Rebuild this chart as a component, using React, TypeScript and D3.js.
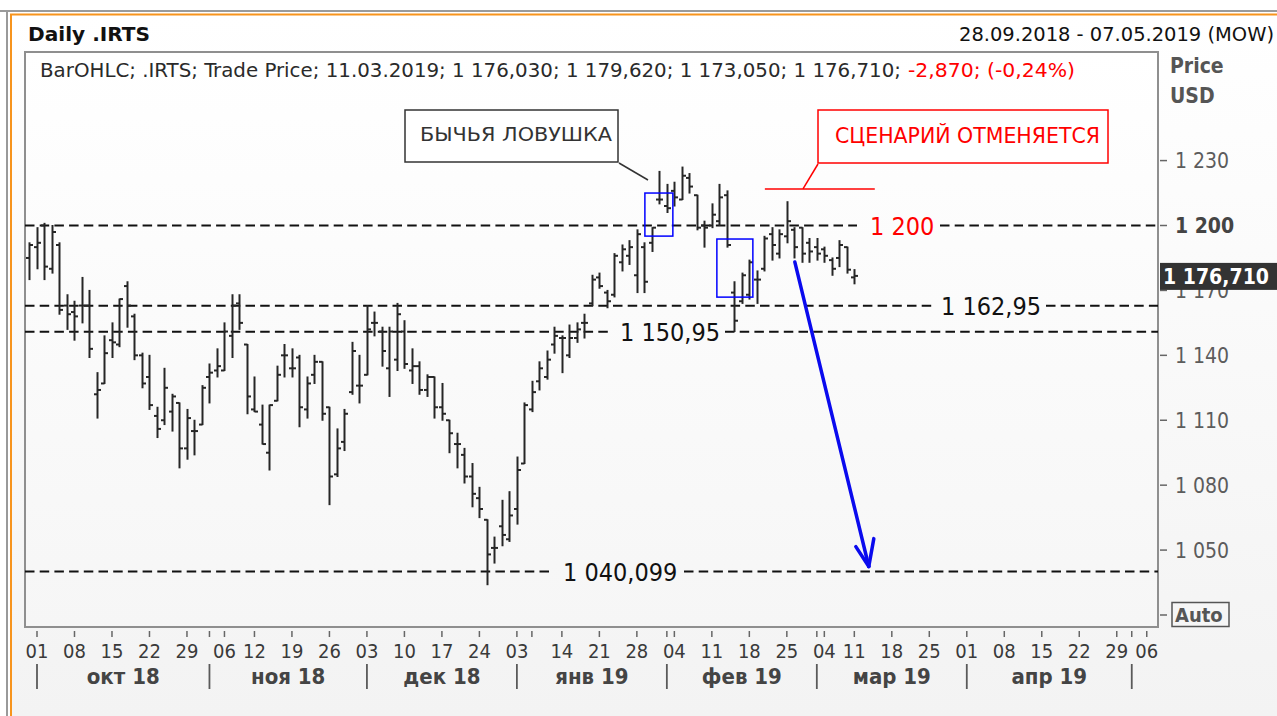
import React from 'react';
import * as d3 from 'd3';

const W = 1277;
const H = 716;

// ---------- calendar ----------
const FIRST_DAY = '2018-09-28';
const LAST_DAY = '2019-05-07';
const HOLIDAYS = ['2018-11-05', '2018-12-31', '2019-01-01', '2019-01-02', '2019-01-07', '2019-03-08', '2019-05-01'];

// ---------- OHLC series (11.03.2019 last bar) ----------
const openV = [
  1185, 1190, 1200, 1180, 1191, 1163, 1160, 1163, 1163, 1122,
  1127, 1147, 1145, 1172, 1158, 1140, 1130, 1112, 1110, 1114,
  1118, 1097, 1105, 1108, 1130, 1133, 1133, 1149, 1164, 1145,
  1115, 1108, 1095, 1119, 1140, 1134, 1139, 1115, 1131, 1137,
  1116, 1085, 1100, 1123, 1126, 1131, 1155, 1151, 1134, 1138,
  1151, 1133, 1135, 1124, 1130, 1116, 1110, 1099, 1094, 1084,
  1074, 1064, 1051, 1061, 1055, 1069, 1090, 1115, 1128, 1130,
  1145, 1148, 1140, 1148, 1155, 1164, 1176, 1169, 1168, 1183,
  1186, 1177, 1190, 1192, 1212, 1209, 1216, 1212, 1222, 1214,
  1200, 1200, 1202, 1214, 1169, 1165, 1168, 1175, 1180, 1196,
  1187, 1195, 1198, 1199, 1192, 1190, 1189, 1184, 1185, 1190,
  1176.03,
];
const highV = [
  1192, 1199, 1201, 1200, 1192, 1168, 1165, 1176, 1170, 1132,
  1149, 1155, 1166, 1174, 1159, 1141, 1140, 1116, 1134, 1122,
  1118, 1115, 1110, 1126, 1136, 1143, 1155, 1168, 1168, 1145,
  1130, 1117, 1117, 1135, 1145, 1143, 1140, 1130, 1140, 1137,
  1116, 1106, 1115, 1146, 1140, 1163, 1160, 1153, 1153, 1164,
  1156, 1143, 1137, 1131, 1130, 1127, 1110, 1104, 1097, 1090,
  1079, 1064, 1056, 1073, 1077, 1093, 1118, 1128, 1137, 1142,
  1153, 1149, 1154, 1155, 1159, 1177, 1178, 1170, 1187, 1191,
  1193, 1198, 1192, 1199, 1225, 1219, 1220, 1227, 1224, 1214,
  1202, 1210, 1219, 1216, 1174, 1178, 1184, 1179, 1195, 1199,
  1198, 1211, 1199, 1199, 1194, 1194, 1190, 1185, 1193, 1190,
  1179.62,
];
const lowV = [
  1175, 1180, 1175, 1178, 1159, 1152, 1147, 1155, 1139, 1111,
  1127, 1139, 1144, 1153, 1138, 1125, 1115, 1102, 1108, 1105,
  1088, 1092, 1094, 1108, 1118, 1130, 1133, 1139, 1152, 1113,
  1114, 1099, 1087, 1119, 1130, 1130, 1107, 1111, 1127, 1110,
  1071, 1084, 1096, 1122, 1118, 1131, 1149, 1135, 1121, 1133,
  1134, 1127, 1122, 1121, 1111, 1110, 1095, 1088, 1081, 1070,
  1065, 1034, 1044, 1052, 1054, 1062, 1090, 1114, 1124, 1129,
  1141, 1132, 1139, 1146, 1148, 1163, 1171, 1162, 1167, 1179,
  1182, 1169, 1169, 1188, 1210, 1206, 1209, 1212, 1215, 1198,
  1190, 1199, 1200, 1190, 1151, 1164, 1166, 1164, 1179, 1184,
  1185, 1192, 1185, 1183, 1183, 1184, 1183, 1177, 1181, 1178,
  1173.05,
];
const closeV = [
  1191, 1192, 1181, 1197, 1161, 1159, 1158, 1163, 1143, 1124,
  1141, 1146, 1166, 1163, 1140, 1127, 1117, 1106, 1125, 1121,
  1097, 1111, 1105, 1125, 1132, 1135, 1151, 1163, 1155, 1121,
  1114, 1099, 1117, 1131, 1140, 1134, 1116, 1127, 1137, 1113,
  1084, 1097, 1113, 1142, 1126, 1152, 1155, 1142, 1151, 1159,
  1136, 1135, 1124, 1130, 1116, 1113, 1104, 1099, 1084, 1076,
  1069, 1048, 1051, 1057, 1066, 1087, 1117, 1123, 1134, 1138,
  1149, 1148, 1148, 1152, 1155, 1175, 1172, 1165, 1186, 1189,
  1190, 1196, 1174, 1199, 1212, 1208, 1213, 1223, 1218, 1199,
  1199, 1205, 1213, 1191, 1156, 1177, 1183, 1175, 1194, 1191,
  1196, 1202, 1190, 1187, 1188, 1187, 1186, 1180, 1191, 1179.58,
  1176.71,
];

// ---------- axes ----------
const yTicks = [1050, 1080, 1110, 1140, 1170, 1200, 1230];
const yAuto = 1020;
const dayTickDates = [
  '2018-10-01', '2018-10-08', '2018-10-15', '2018-10-22', '2018-10-29', '2018-11-06', '2018-11-12',
  '2018-11-19', '2018-11-26', '2018-12-03', '2018-12-10', '2018-12-17', '2018-12-24', '2019-01-03',
  '2019-01-14', '2019-01-21', '2019-01-28', '2019-02-04', '2019-02-11', '2019-02-18', '2019-02-25',
  '2019-03-04', '2019-03-11', '2019-03-18', '2019-03-25', '2019-04-01', '2019-04-08', '2019-04-15',
  '2019-04-22', '2019-04-29', '2019-05-06',
];
const extraTickDates = ['2018-11-01', '2019-01-08', '2019-02-01', '2019-03-01', '2019-05-02'];
const monthStartDates = ['2018-10-01', '2018-11-01', '2018-12-03', '2019-01-03', '2019-02-01', '2019-03-01', '2019-04-01', '2019-05-02'];
const monthLabels = ['окт 18', 'ноя 18', 'дек 18', 'янв 19', 'фев 19', 'мар 19', 'апр 19'];

// ---------- levels ----------
const levelValues = [1200, 1162.95, 1150.95, 1040.099];
const levelLabels = ['1 200', '1 162,95', '1 150,95', '1 040,099'];

const fmt = (v: number) => {
  const s = Math.round(v).toString();
  return s.length > 3 ? s.slice(0, s.length - 3) + ' ' + s.slice(-3) : s;
};

function tradingDays(): string[] {
  const out: string[] = [];
  const d = new Date(FIRST_DAY + 'T00:00:00Z');
  const end = new Date(LAST_DAY + 'T00:00:00Z');
  while (d <= end) {
    const wd = d.getUTCDay();
    const iso = d.toISOString().slice(0, 10);
    if (wd !== 0 && wd !== 6 && !HOLIDAYS.includes(iso)) out.push(iso);
    d.setUTCDate(d.getUTCDate() + 1);
  }
  return out;
}

const FONT = 'Tahoma, "DejaVu Sans Condensed", "Liberation Sans", Arial, sans-serif';

export default function App() {
  const days = tradingDays();
  const idx = (s: string) => days.indexOf(s);

  const PL = 25, PR = 1158, PT = 52, PB = 627;
  const x = d3.scaleLinear().domain([-0.6, days.length - 0.5]).range([PL, PR]);
  const y = d3.scaleLinear().domain([yAuto, 1200]).range([615, 225.5]);

  const bars = closeV.map((c, i) => ({ i, o: openV[i], h: highV[i], l: lowV[i], c }));

  const textCol = '#3a3a3a';
  const axisCol = '#5a5a5a';

  // level label layout (pixel gaps)
  const levelLayout = [
    { gap: [857, 940], lx: 870, color: '#ff0000' },
    { gap: [936, 1046], lx: 941, color: '#111' },
    { gap: [613, 725], lx: 620, color: '#111' },
    { gap: [551, 684], lx: 563, color: '#111' },
  ];

  // annotation anchors in data space
  const arrowStart = { i: 102.07, v: 1183.1 };
  const arrowEnd = { i: 111.93, v: 1042.4 };
  const wingL = { i: 110.2, v: 1051.6 };
  const wingR = { i: 112.6, v: 1055.3 };
  const box1 = { i0: 82.07, i1: 85.8, v0: 1215, v1: 1195.1 };
  const box2 = { i0: 91.67, i1: 96.47, v0: 1193.75, v1: 1166.9 };
  const redLine = { i0: 98.07, i1: 112.73, v: 1216.9 };

  const lastClose = closeV[closeV.length - 1];

  return (
    <div style={{ position: 'fixed', left: 0, top: 0, width: W, height: H }}>
      <svg width={W} height={H} xmlns="http://www.w3.org/2000/svg" style={{ display: 'block', fontFamily: FONT }}>
        <defs>
          <linearGradient id="bg" x1="0" y1="0" x2="0" y2="1">
            <stop offset="0" stopColor="#ffffff" />
            <stop offset="1" stopColor="#f3f3f3" />
          </linearGradient>
          <linearGradient id="plotbg" x1="0" y1="0" x2="0" y2="1">
            <stop offset="0" stopColor="#ffffff" />
            <stop offset="1" stopColor="#f6f6f6" />
          </linearGradient>
          <clipPath id="plotclip">
            <rect x={PL} y={PT} width={PR - PL} height={PB - PT} />
          </clipPath>
        </defs>

        <rect x={0} y={0} width={W} height={H} fill="#ffffff" />
        <rect x={11} y={14} width={W - 11} height={H - 14} fill="url(#bg)" />
        {/* frame */}
        <line x1={0} y1={11} x2={W} y2={11} stroke="#9a9a9a" strokeWidth={2} />
        <line x1={10} y1={14.5} x2={W} y2={14.5} stroke="#f7941d" strokeWidth={2} />
        <line x1={7} y1={11} x2={7} y2={H} stroke="#9a9a9a" strokeWidth={2} />
        <line x1={11} y1={14} x2={11} y2={H} stroke="#f7941d" strokeWidth={2} />

        {/* header */}
        <text x={28} y={41} fontSize={20} fontWeight="bold" fill="#111" textLength={122} lengthAdjust="spacingAndGlyphs">Daily .IRTS</text>
        <text x={959} y={41} fontSize={20} fill="#111" textLength={315} lengthAdjust="spacingAndGlyphs">28.09.2018 - 07.05.2019 (MOW)</text>

        {/* plot area */}
        <rect x={PL} y={PT} width={PR - PL} height={PB - PT} fill="url(#plotbg)" stroke="#8f8f8f" strokeWidth={2} />

        <text x={40} y={77} fontSize={19} fill="#2a2a2a" textLength={861} lengthAdjust="spacingAndGlyphs">
          BarOHLC; .IRTS; Trade Price; 11.03.2019; 1 176,030; 1 179,620; 1 173,050; 1 176,710;
        </text>
        <text x={908} y={77} fontSize={19} fill="#ff0000" textLength={167} lengthAdjust="spacingAndGlyphs">-2,870; (-0,24%)</text>

        {/* level lines */}
        <g clipPath="url(#plotclip)">
          {levelValues.map((v, k) => {
            const L = levelLayout[k];
            const yy = y(v);
            return (
              <g key={'lv' + k}>
                <line x1={PL} x2={L.gap[0]} y1={yy} y2={yy} stroke="#111" strokeWidth={2} strokeDasharray="9.5 5.2" />
                <line x1={L.gap[1]} x2={PR} y1={yy} y2={yy} stroke="#111" strokeWidth={2} strokeDasharray="9.5 5.2" />
              </g>
            );
          })}

          {/* OHLC bars */}
          <g stroke="#262626" strokeWidth={2}>
            {bars.map((b) => {
              const xx = Math.round(x(b.i)) + 0.5;
              return (
                <g key={'b' + b.i}>
                  <line x1={xx} x2={xx} y1={y(b.h) - 0.5} y2={y(b.l) + 0.5} />
                  <line x1={xx - 3.5} x2={xx} y1={y(b.o)} y2={y(b.o)} />
                  <line x1={xx} x2={xx + 3.5} y1={y(b.c)} y2={y(b.c)} />
                </g>
              );
            })}
          </g>
        </g>

        {/* level labels */}
        {levelValues.map((v, k) => {
          const L = levelLayout[k];
          return (
            <text key={'ll' + k} x={L.lx} y={y(v) + 9} fontSize={25} fill={L.color}>
              {levelLabels[k]}
            </text>
          );
        })}

        {/* blue boxes */}
        {[box1, box2].map((b, k) => (
          <rect key={'bx' + k} x={x(b.i0)} y={y(b.v0)} width={x(b.i1) - x(b.i0)} height={y(b.v1) - y(b.v0)}
            fill="none" stroke="#0000ff" strokeWidth={1.5} />
        ))}

        {/* blue arrow */}
        <g stroke="#0a0aee" strokeWidth={3.5} strokeLinecap="round" fill="none">
          <line x1={x(arrowStart.i)} y1={y(arrowStart.v)} x2={x(arrowEnd.i)} y2={y(arrowEnd.v)} />
          <line x1={x(arrowEnd.i)} y1={y(arrowEnd.v)} x2={x(wingL.i)} y2={y(wingL.v)} />
          <line x1={x(arrowEnd.i)} y1={y(arrowEnd.v)} x2={x(wingR.i)} y2={y(wingR.v)} />
        </g>

        {/* callout: bull trap */}
        <rect x={405} y={110} width={213} height={52} fill="#ffffff" stroke="#333" strokeWidth={1.5} />
        <text x={420} y={141} fontSize={19} fill="#333" textLength={192} lengthAdjust="spacingAndGlyphs">БЫЧЬЯ ЛОВУШКА</text>
        <line x1={619} y1={163} x2={648} y2={180} stroke="#333" strokeWidth={1.5} />

        {/* callout: scenario cancelled */}
        <rect x={818} y={110} width={290} height={53} fill="#ffffff" stroke="#ff0000" strokeWidth={1.5} />
        <text x={835} y={143} fontSize={21} fill="#ff0000" textLength={265} lengthAdjust="spacingAndGlyphs">СЦЕНАРИЙ ОТМЕНЯЕТСЯ</text>
        <line x1={818} y1={164} x2={803} y2={y(redLine.v)} stroke="#ff0000" strokeWidth={1.5} />
        <line x1={x(redLine.i0)} y1={y(redLine.v)} x2={x(redLine.i1)} y2={y(redLine.v)} stroke="#ff0000" strokeWidth={1.5} />

        {/* right axis */}
        <text x={1170} y={73} fontSize={21} fontWeight="bold" fill="#555">Price</text>
        <text x={1170} y={103} fontSize={21} fontWeight="bold" fill="#555">USD</text>
        {yTicks.map((t) => (
          <g key={'yt' + t}>
            <line x1={1160} x2={1167} y1={y(t)} y2={y(t)} stroke="#666" strokeWidth={1.5} />
            <text x={1175} y={y(t) + 7.5} fontSize={21} fill={t === 1200 ? '#444' : '#5c5c5c'} fontWeight={t === 1200 ? 'bold' : 'normal'}>
              {fmt(t)}
            </text>
          </g>
        ))}
        <line x1={1160} x2={1167} y1={y(yAuto)} y2={y(yAuto)} stroke="#666" strokeWidth={1.5} />
        <rect x={1172} y={y(yAuto) - 12.5} width={57} height={24} fill="#f6f6f6" stroke="#555" strokeWidth={1.5} />
        <text x={1175} y={y(yAuto) + 7} fontSize={20} fontWeight="bold" fill="#555">Auto</text>

        {/* last price tag */}
        <rect x={1160} y={y(lastClose) - 13} width={117} height={27} fill="#333333" />
        <text x={1163} y={y(lastClose) + 8} fontSize={21} fontWeight="bold" fill="#ffffff" textLength={106} lengthAdjust="spacingAndGlyphs">
          1 176,710
        </text>

        {/* bottom axis */}
        {[...dayTickDates, ...extraTickDates].map((d) => {
          const xx = x(idx(d));
          return <line key={'xt' + d} x1={xx} x2={xx} y1={631} y2={637} stroke="#666" strokeWidth={1.5} />;
        })}
        {dayTickDates.map((d) => (
          <text key={'xl' + d} x={x(idx(d))} y={658} fontSize={20} fill={textCol} textAnchor="middle">
            {d.slice(8, 10)}
          </text>
        ))}
        {monthStartDates.map((d) => {
          const xx = x(idx(d));
          return <line key={'ms' + d} x1={xx} x2={xx} y1={664} y2={689} stroke={axisCol} strokeWidth={1.8} />;
        })}
        {monthLabels.map((m, k) => {
          const x0 = x(idx(monthStartDates[k]));
          const x1 = x(idx(monthStartDates[k + 1]));
          return (
            <text key={'ml' + k} x={(x0 + x1) / 2} y={684} fontSize={22} fontWeight="bold" fill="#444" textAnchor="middle">
              {m}
            </text>
          );
        })}
      </svg>
    </div>
  );
}
